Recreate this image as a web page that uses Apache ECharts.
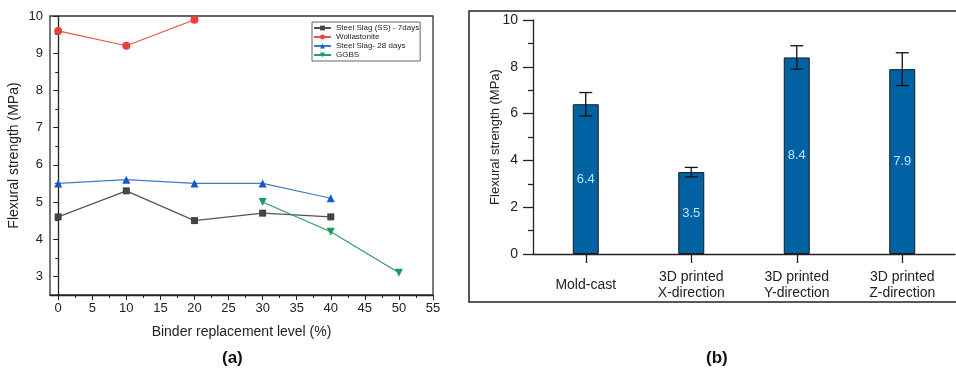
<!DOCTYPE html>
<html><head><meta charset="utf-8">
<script src="https://cdn.jsdelivr.net/npm/echarts@6/dist/echarts.min.js"></script>
<style>html,body{margin:0;padding:0;background:#fff}#c{width:956px;height:371px}</style>
</head><body><div id="c"></div>
<script>
// ---- Panel (a) data ----
const levels = [0, 10, 20, 30, 40, 50];
const ss7days = [4.6, 5.3, 4.5, 4.7, 4.6, null];
const wollastonite = [9.6, 9.2, 9.9, null, null, null];
const ss28days = [5.5, 5.6, 5.5, 5.5, 5.1, null];
const ggbs = [null, null, null, 5.0, 4.2, 3.1];
const seriesNamesA = ['Steel Slag (SS) - 7days', 'Wollastonite', 'Steel Slag- 28 days', 'GGBS'];
const xTicksA = [0, 5, 10, 15, 20, 25, 30, 35, 40, 45, 50, 55];
const xMinorA = [2.5, 7.5, 12.5, 17.5, 22.5, 27.5, 32.5, 37.5, 42.5, 47.5, 52.5];
const yTicksA = [3, 4, 5, 6, 7, 8, 9, 10];
const yMinorA = [3.5, 4.5, 5.5, 6.5, 7.5, 8.5, 9.5];

// ---- Panel (b) data ----
const categoriesB = ['Mold-cast', '3D printed\nX-direction', '3D printed\nY-direction', '3D printed\nZ-direction'];
const strengthB = [6.4, 3.5, 8.4, 7.9];
const errorB = [0.5, 0.2, 0.5, 0.7];

const FONT = '"Liberation Sans", Arial, sans-serif';
const pairs = arr => levels.map((x, i) => arr[i] == null ? null : [x, arr[i]]).filter(p => p);

const chart = echarts.init(document.getElementById('c'), null, {renderer: 'canvas'});
const axisLineStyle = {color: '#222', width: 1.3};

const option = {
  animation: false,
  textStyle: {fontFamily: FONT},
  grid: [
    {left: 50, right: 523, top: 16, bottom: 76, show: true, borderColor: '#333', borderWidth: 1.3, backgroundColor: 'transparent'},
    {left: 533, right: 1, top: 20, bottom: 117}
  ],
  legend: {
    data: seriesNamesA,
    orient: 'vertical', left: 312, top: 22,
    itemWidth: 17, itemHeight: 6, itemGap: 1,
    padding: [2, 1, 2, 1],
    borderColor: '#666', borderWidth: 1,
    textStyle: {fontSize: 8, lineHeight: 8, color: '#222', fontFamily: FONT}
  },
  xAxis: [
    {type: 'value', gridIndex: 0, min: -1.2, max: 55,
     name: 'Binder replacement level (%)', nameLocation: 'middle', nameGap: 30,
     nameTextStyle: {fontSize: 14, color: '#222'},
     axisLine: {lineStyle: axisLineStyle},
     axisTick: {show: true, length: 5, customValues: xTicksA, lineStyle: {color: '#222'}},
     axisLabel: {customValues: xTicksA, fontSize: 13, color: '#222', margin: 7},
     splitLine: {show: false}},
    {type: 'value', gridIndex: 0, min: -1.2, max: 55, position: 'bottom',
     axisLine: {show: false},
     axisTick: {show: true, length: 3, customValues: xMinorA, lineStyle: {color: '#222'}},
     axisLabel: {show: false}, splitLine: {show: false}},
    {type: 'category', gridIndex: 1, data: categoriesB, boundaryGap: true,
     axisLine: {lineStyle: axisLineStyle},
     axisTick: {show: true, alignWithLabel: true, length: 9, lineStyle: {color: '#222', width: 1.3}},
     axisLabel: {fontSize: 14, color: '#222', margin: 31, verticalAlign: 'middle', lineHeight: 16, interval: 0}}
  ],
  yAxis: [
    {type: 'value', gridIndex: 0, min: 2.5, max: 10,
     name: 'Flexural strength (MPa)', nameLocation: 'middle', nameGap: 29,
     nameTextStyle: {fontSize: 14, color: '#222'},
     axisLine: {show: true, lineStyle: axisLineStyle},
     axisTick: {show: true, length: 5, customValues: yTicksA, lineStyle: {color: '#222'}},
     axisLabel: {customValues: yTicksA, fontSize: 13, color: '#222', margin: 7},
     splitLine: {show: false}},
    {type: 'value', gridIndex: 0, min: 2.5, max: 10, position: 'left',
     axisLine: {show: false},
     axisTick: {show: true, length: 3, customValues: yMinorA, lineStyle: {color: '#222'}},
     axisLabel: {show: false}, splitLine: {show: false}},
    {type: 'value', gridIndex: 1, min: 0, max: 10, interval: 2,
     name: 'Flexural strength (MPa)', nameLocation: 'middle', nameGap: 31, nameMoveOverlap: false,
     nameTextStyle: {fontSize: 13, color: '#222'},
     axisLine: {show: true, lineStyle: axisLineStyle},
     axisTick: {show: true, length: 10, lineStyle: {color: '#222', width: 1.3}},
     minorTick: {show: true, splitNumber: 2, length: 5, lineStyle: {color: '#222', width: 1.3}},
     axisLabel: {fontSize: 14, color: '#222', margin: 15},
     splitLine: {show: false}}
  ],
  series: [
    {name: seriesNamesA[0], type: 'line', xAxisIndex: 0, yAxisIndex: 0, data: pairs(ss7days),
     symbol: 'rect', symbolSize: 7, lineStyle: {color: '#555', width: 1.2}, itemStyle: {color: '#444'}},
    {name: seriesNamesA[1], type: 'line', xAxisIndex: 0, yAxisIndex: 0, data: pairs(wollastonite),
     symbol: 'circle', symbolSize: 8, lineStyle: {color: '#e8524c', width: 1.2}, itemStyle: {color: '#e8403a'}},
    {name: seriesNamesA[2], type: 'line', xAxisIndex: 0, yAxisIndex: 0, data: pairs(ss28days),
     symbol: 'triangle', symbolSize: 8, lineStyle: {color: '#3d7acb', width: 1.2}, itemStyle: {color: '#1558c8'}},
    {name: seriesNamesA[3], type: 'line', xAxisIndex: 0, yAxisIndex: 0, data: pairs(ggbs),
     symbol: 'triangle', symbolRotate: 180, symbolSize: 8, lineStyle: {color: '#2e9a66', width: 1.2}, itemStyle: {color: '#1f9a5a'}},
    {type: 'bar', xAxisIndex: 2, yAxisIndex: 2, data: strengthB, barWidth: 26,
     itemStyle: {color: '#0061a3', borderColor: '#1a1a1a', borderWidth: 1},
     label: {show: true, position: 'inside', color: '#b8e4ff', fontSize: 13, fontFamily: FONT}},
    {type: 'custom', xAxisIndex: 2, yAxisIndex: 2, z: 5,
     data: strengthB.map((v, i) => [i, v - errorB[i], v + errorB[i]]),
     renderItem: function (params, api) {
       const lo = api.coord([api.value(0), api.value(1)]);
       const hi = api.coord([api.value(0), api.value(2)]);
       const hw = 6.5;
       const st = {stroke: '#111', lineWidth: 1.3};
       return {type: 'group', children: [
         {type: 'line', shape: {x1: hi[0], y1: hi[1], x2: lo[0], y2: lo[1]}, style: st},
         {type: 'line', shape: {x1: hi[0] - hw, y1: hi[1], x2: hi[0] + hw, y2: hi[1]}, style: st},
         {type: 'line', shape: {x1: lo[0] - hw, y1: lo[1], x2: lo[0] + hw, y2: lo[1]}, style: st}
       ]};
     }}
  ],
  graphic: [
    {type: 'rect', shape: {x: 469, y: 11, width: 490, height: 291}, style: {fill: 'none', stroke: '#222', lineWidth: 1.5}, silent: true},
    {type: 'text', left: 222, top: 350, style: {text: '(a)', font: 'bold 17px "Liberation Sans", Arial, sans-serif', fill: '#111'}},
    {type: 'text', left: 706, top: 350, style: {text: '(b)', font: 'bold 17px "Liberation Sans", Arial, sans-serif', fill: '#111'}}
  ]
};
chart.setOption(option);
</script>
</body></html>
